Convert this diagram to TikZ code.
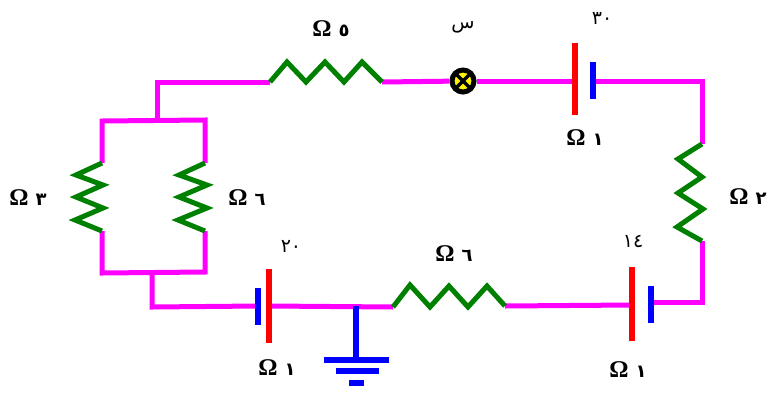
\documentclass[tikz,border=0pt]{standalone}
\usepackage{fontspec}
\TeXXeTstate=1
\setmainfont{Liberation Serif}
\newfontfamily\arabicfont[Script=Arabic]{DejaVu Sans}
\definecolor{wiremag}{RGB}{255,0,255}
\definecolor{resgreen}{RGB}{0,128,0}
\tikzset{
  x=1pt,y=-1pt,
  wire/.style={draw=wiremag,line width=5pt,line join=miter},
  res/.style={draw=resgreen,line width=5pt,line join=miter},
  plus/.style={draw=red,line width=6pt},
  minus/.style={draw=blue,line width=6pt},
  gnd/.style={draw=blue,line width=5.5pt},
  val/.style={inner sep=0pt,font=\fontsize{24}{26}\selectfont\bfseries},
  num/.style={inner sep=0pt,font=\fontsize{19}{22}\selectfont\arabicfont},
  lamp/.style={circle,draw=black,line width=5pt,fill=yellow,minimum size=22pt,inner sep=0pt,path picture={
    \draw[black,line width=3.5pt] (path picture bounding box.north west)--(path picture bounding box.south east)
      (path picture bounding box.north east)--(path picture bounding box.south west);}},
}
\newcommand{\ohm}[1]{Ω\hspace{7pt}{\fontsize{18}{20}\selectfont\arabicfont\bfseries\beginR #1\endR}}
\begin{document}
\begin{tikzpicture}
\useasboundingbox (0,0) rectangle (769,392);
% coordinates
\coordinate (r1a) at (270,82);
\coordinate (r1b) at (382,82);
\coordinate (j1) at (157,82);
\coordinate (j2) at (157,121);
\coordinate (tl) at (102,121);
\coordinate (tr) at (205,120);
\coordinate (r3a) at (102,163);
\coordinate (r3b) at (102,231);
\coordinate (r6a) at (205,163);
\coordinate (r6b) at (205,231);
\coordinate (bl) at (102,273);
\coordinate (br) at (205,272);
\coordinate (j3) at (152,273);
\coordinate (j4) at (152,307);
\coordinate (b1n) at (258,306);
\coordinate (b1p) at (269,306);
\coordinate (g) at (356,306);
\coordinate (g1) at (356,360);
\coordinate (r4a) at (393,307);
\coordinate (r4b) at (505,306);
\coordinate (b2p) at (632,305);
\coordinate (b2n) at (651,302);
\coordinate (c2) at (702,302);
\coordinate (r2b) at (702,241);
\coordinate (r2a) at (702,144);
\coordinate (c1) at (702,81);
\coordinate (b3n) at (593,81);
\coordinate (b3p) at (575,81);
% lamp
\node[lamp] (L) at (463,81) {};
% wires
\draw[wire] (r1b) -- (L);
\draw[wire] (L) -- (b3p);
\draw[wire] (b3n) -- (c1) -- (r2a);
\draw[wire] (r2b) -- (c2) -- (b2n);
\draw[wire] (b2p) -- (r4b);
\draw[wire] (r4a) -- (b1p);
\draw[wire] (b1n) -- (j4) -- (j3);
\draw[wire] (r3b) -- (bl) -- (br) -- (r6b);
\draw[wire] (r3a) -- (tl) -- (tr) -- (r6a);
\draw[wire] (j2) -- (j1) -- (r1a);
% resistors
\draw[res] (r1a) -- (287,62) -- (306,82) -- (325,62) -- (344,82) -- (362,62) -- (r1b);
\draw[res] (r2a) -- (678,159) -- (702,177) -- (678,193) -- (703,209) -- (677,227) -- (r2b);
\draw[res] (r3a) -- (76,175) -- (103,185) -- (76,197) -- (103,208) -- (75,220) -- (r3b);
\draw[res] (r6a) -- (179,175) -- (207,185) -- (179,197) -- (207,208) -- (178,220) -- (r6b);
\draw[res] (r4a) -- (410,285) -- (430,307) -- (449,286) -- (468,307) -- (487,286) -- (r4b);
% batteries
\draw[plus] (575,43) -- (b3p) -- (575,115);
\draw[minus] (593,62) -- (b3n) -- (593,99);
\draw[plus] (269,269) -- (b1p) -- (269,343);
\draw[minus] (258,288) -- (b1n) -- (258,325);
\draw[plus] (632,267) -- (b2p) -- (632,341);
\draw[minus] (651,286) -- (b2n) -- (651,323);
% ground
\draw[gnd] (g) -- (g1);
\draw[gnd] (324,360) -- (g1) -- (389,360);
\draw[gnd] (336,371) -- (379,371);
\draw[gnd] (349,383) -- (364,383);
% labels
\node[val] (t1) at (331,29) {\ohm{٥}};
\node[num] (t2) at (463,27) {\beginR س\endR};
\node[num] (t3) at (602,18) {\beginL ٣٠\endL};
\node[val] (t4) at (585,138) {\ohm{١}};
\node[val] (t5) at (28,198) {\ohm{٣}};
\node[val] (t6) at (247,198) {\ohm{٦}};
\node[num] (t7) at (291,246) {\beginL ٢٠\endL};
\node[val] (t8) at (277,368) {\ohm{١}};
\node[val] (t9) at (454,254) {\ohm{٦}};
\node[num] (t10) at (633,241) {\beginL ١٤\endL};
\node[val] (t11) at (628,370) {\ohm{١}};
\node[val] (t12) at (748,197) {\ohm{٢}};
\end{tikzpicture}
\end{document}
